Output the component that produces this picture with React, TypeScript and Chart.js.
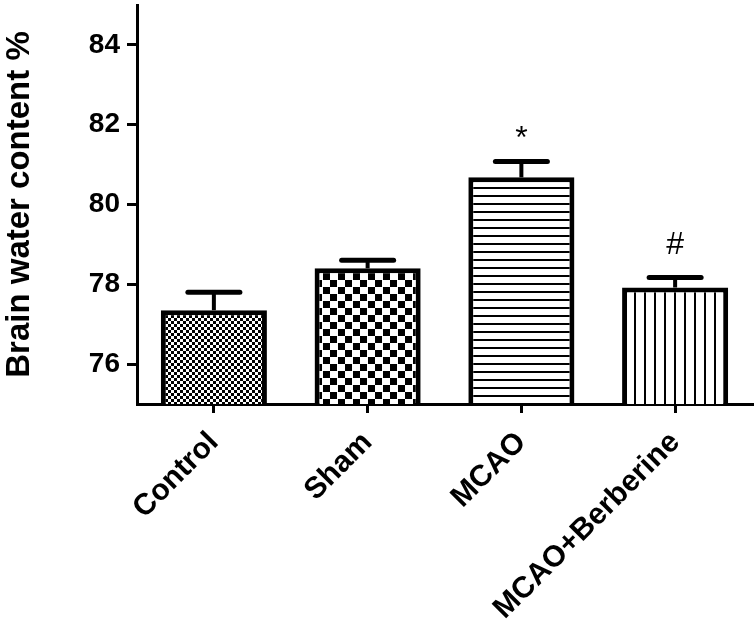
import React, { useEffect, useRef } from "react";
import { Chart, registerables } from "chart.js";

Chart.register(...registerables);

const categories = ["Control", "Sham", "MCAO", "MCAO+Berberine"];
const meanValues = [77.35, 78.4, 80.68, 77.92];
const semValues = [0.45, 0.2, 0.4, 0.25];
const markers = ["", "", "*", "#"];
const yTickValues = [76, 78, 80, 82, 84];
const yMin = 75;
const yMax = 85;
const yTitle = "Brain water content %";

function makePattern(kind: string): CanvasPattern | string {
  const c = document.createElement("canvas");
  const ctx = c.getContext("2d");
  if (!ctx) return "#888";
  if (kind === "fine") {
    c.width = 6; c.height = 6;
    ctx.fillStyle = "#fff"; ctx.fillRect(0, 0, 6, 6);
    ctx.fillStyle = "#000";
    ctx.fillRect(0, 0, 3, 3);
    ctx.fillRect(3, 3, 3, 3);
  } else if (kind === "checker") {
    c.width = 15; c.height = 14;
    ctx.fillStyle = "#fff"; ctx.fillRect(0, 0, 15, 14);
    ctx.fillStyle = "#000";
    ctx.fillRect(0, 0, 7, 7);
    ctx.fillRect(8, 7, 7, 7);
  } else if (kind === "hlines") {
    c.width = 8; c.height = 8;
    ctx.fillStyle = "#fff"; ctx.fillRect(0, 0, 8, 8);
    ctx.fillStyle = "#000";
    ctx.fillRect(0, 3, 8, 2);
  } else {
    c.width = 10; c.height = 10;
    ctx.fillStyle = "#fff"; ctx.fillRect(0, 0, 10, 10);
    ctx.fillStyle = "#000";
    ctx.fillRect(4, 0, 2, 10);
  }
  const p = ctx.createPattern(c, "repeat");
  return p || "#888";
}

const errorBarPlugin = {
  id: "errorBars",
  afterDatasetsDraw(chart: any) {
    const ctx = chart.ctx;
    const meta = chart.getDatasetMeta(0);
    const y = chart.scales.y;
    ctx.save();
    ctx.strokeStyle = "#000";
    ctx.fillStyle = "#000";
    meta.data.forEach((bar: any, i: number) => {
      const x = bar.x;
      const yMean = y.getPixelForValue(meanValues[i]);
      const yTop = y.getPixelForValue(meanValues[i] + semValues[i]);
      ctx.lineCap = "butt";
      ctx.lineWidth = 4;
      ctx.beginPath();
      ctx.moveTo(x, yMean);
      ctx.lineTo(x, yTop);
      ctx.stroke();
      ctx.lineCap = "round";
      ctx.lineWidth = 5;
      ctx.beginPath();
      ctx.moveTo(x - 26, yTop);
      ctx.lineTo(x + 26, yTop);
      ctx.stroke();
      const m = markers[i];
      if (m) {
        ctx.font = "32px 'Liberation Sans', Arial, sans-serif";
        ctx.textAlign = "center";
        ctx.textBaseline = "alphabetic";
        const mt = ctx.measureText(m);
        const asc = mt.actualBoundingBoxAscent;
        const desc = mt.actualBoundingBoxDescent;
        const centreGap = m === "*" ? 29 : 35;
        const baseline = yTop - centreGap + (asc - desc) / 2;
        ctx.fillText(m, x, baseline);
      }
    });
    ctx.restore();
  },
};

export default function App() {
  const ref = useRef<HTMLCanvasElement | null>(null);
  useEffect(() => {
    if (!ref.current) return;
    const patterns = [
      makePattern("fine"),
      makePattern("checker"),
      makePattern("hlines"),
      makePattern("vlines"),
    ];
    const font = "'Liberation Sans', Arial, sans-serif";
    const chart = new Chart(ref.current, {
      type: "bar",
      data: {
        labels: categories,
        datasets: [
          {
            data: meanValues,
            backgroundColor: patterns as any,
            borderColor: "#000",
            borderWidth: 5,
            borderSkipped: "bottom",
            categoryPercentage: 1,
            barPercentage: 0.69,
          },
        ],
      },
      options: {
        animation: false,
        responsive: false,
        maintainAspectRatio: false,
        layout: { padding: { top: 5, right: 2, left: 0, bottom: 0 } },
        plugins: { legend: { display: false }, tooltip: { enabled: false } },
        scales: {
          x: {
            offset: true,
            border: { display: true, color: "#000", width: 3 },
            grid: {
              display: true,
              drawOnChartArea: false,
              drawTicks: true,
              tickLength: 9,
              color: "#000",
              lineWidth: 3,
              offset: false,
            },
            ticks: {
              color: "#000",
              font: { family: font, size: 30, weight: "bold" },
              maxRotation: 45,
              minRotation: 45,
              padding: 12,
              autoSkip: false,
            },
            afterFit(scale: any) {
              scale.height = 221;
              scale.paddingLeft = 0;
              scale.paddingRight = 0;
            },
          },
          y: {
            min: yMin,
            max: yMax,
            border: { display: true, color: "#000", width: 3 },
            grid: {
              display: true,
              drawOnChartArea: false,
              drawTicks: true,
              tickLength: 10,
              color: "#000",
              lineWidth: 3,
            },
            afterBuildTicks(scale: any) {
              scale.ticks = yTickValues.map((v) => ({ value: v }));
            },
            ticks: {
              color: "#000",
              font: { family: font, size: 28, weight: "bold" },
              padding: 7,
            },
            title: {
              display: true,
              text: yTitle,
              color: "#000",
              font: { family: font, size: 33, weight: "bold" },
              padding: { top: 0, bottom: 6 },
            },
            afterFit(scale: any) {
              scale.width = 137;
              scale.paddingTop = 0;
              scale.paddingBottom = 0;
            },
          },
        },
      },
      plugins: [errorBarPlugin],
    });
    return () => chart.destroy();
  }, []);
  return (
    <div style={{ position: "fixed", left: 0, top: 0, width: 754, height: 625, background: "#fff" }}>
      <canvas ref={ref} width={754} height={625} style={{ width: 754, height: 625, display: "block" }} />
    </div>
  );
}
